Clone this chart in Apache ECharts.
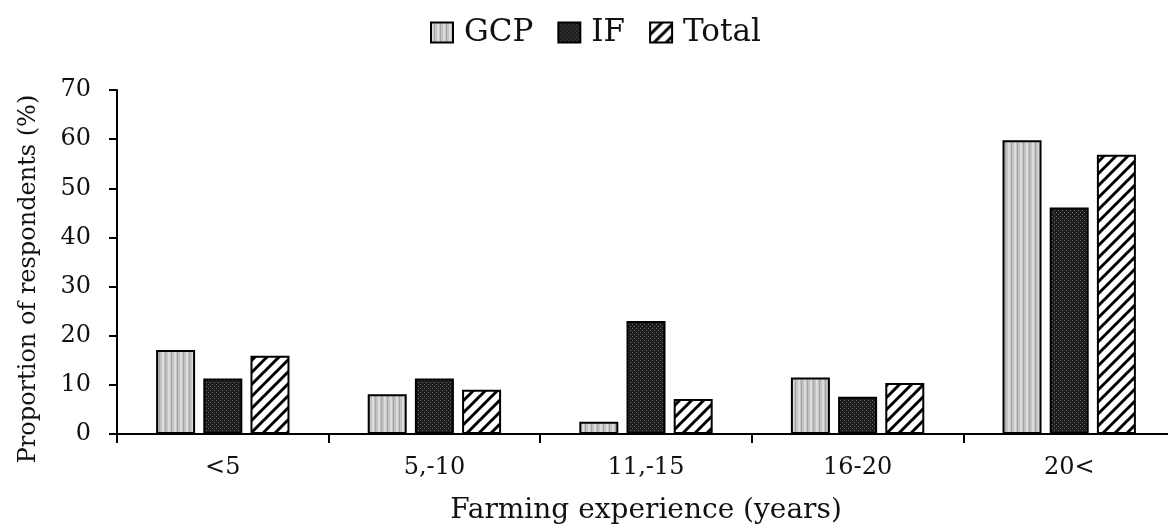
<!DOCTYPE html>
<html><head><meta charset="utf-8">
<script src="https://cdn.jsdelivr.net/npm/echarts@6/dist/echarts.min.js"></script>
<style>html,body{margin:0;padding:0;background:#fff;overflow:hidden}#c{width:1168px;height:524px}</style>
</head><body><div id="c"></div>
<script>
const categories = ['<5', '5,-10', '11,-15', '16-20', '20<'];
const gcp = [17.1, 8.1, 2.5, 11.5, 59.8];
const ifv = [11.3, 11.3, 23.0, 7.6, 46.1];
const total = [15.9, 9.0, 7.1, 10.4, 56.8];
const yTicks = [0, 10, 20, 30, 40, 50, 60, 70];

function mk(w, h, draw) {
  const c = document.createElement('canvas'); c.width = w; c.height = h;
  draw(c.getContext('2d')); return c;
}
const pGCP = mk(6, 6, g => {
  g.fillStyle = '#c4c4c4'; g.fillRect(0, 0, 6, 6);
  g.fillStyle = '#dcdcdc'; g.fillRect(0, 0, 2, 6);
  g.fillStyle = '#a6a6a6'; g.fillRect(3, 0, 1, 6);
});
const pIF = mk(4, 4, g => {
  g.fillStyle = '#1c1c1c'; g.fillRect(0, 0, 4, 4);
  g.fillStyle = '#6a6a6a'; g.fillRect(0, 0, 1, 1); g.fillRect(2, 2, 1, 1);
});
const pTot = mk(12, 12, g => {
  g.fillStyle = '#fff'; g.fillRect(0, 0, 12, 12);
  g.strokeStyle = '#000'; g.lineWidth = 3;
  g.beginPath();
  g.moveTo(-3, 15); g.lineTo(15, -3);
  g.moveTo(-9, 9); g.lineTo(9, -9);
  g.moveTo(3, 21); g.lineTo(21, 3);
  g.stroke();
});
const font = 'DejaVu Serif';
const chart = echarts.init(document.getElementById('c'), null, {renderer: 'canvas'});
function ser(name, data, pat) {
  return {
    name, type: 'bar', data, barWidth: 39, barGap: '21%',
    itemStyle: {color: {image: pat, repeat: 'repeat'}, borderColor: '#000', borderWidth: 2}
  };
}
chart.setOption({
  animation: false,
  textStyle: {fontFamily: font, color: '#111'},
  legend: {
    top: 12, left: 425, itemWidth: 22, itemHeight: 20, itemGap: 24, icon: 'rect',
    textStyle: {fontFamily: font, fontSize: 31, color: '#111', padding: [0, 0, 0, 6]},
    itemStyle: {borderColor: '#000', borderWidth: 2},
    data: ['GCP', 'IF', 'Total']
  },
  grid: {left: 117, right: -7, top: 90, bottom: 90, containLabel: false, outerBoundsMode: 'none'},
  xAxis: {
    type: 'category', data: categories,
    name: 'Farming experience (years)', nameLocation: 'middle', nameGap: 63,
    nameTextStyle: {fontFamily: font, fontSize: 28, color: '#111'},
    axisLine: {lineStyle: {color: '#000', width: 2}},
    axisTick: {show: true, length: 9, lineStyle: {color: '#000', width: 2}},
    axisLabel: {fontFamily: font, fontSize: 24, color: '#111', margin: 22}
  },
  yAxis: {
    type: 'value', min: yTicks[0], max: yTicks[yTicks.length - 1], interval: 10,
    name: 'Proportion of respondents (%)', nameLocation: 'middle', nameGap: 76, nameRotate: 90,
    nameTextStyle: {fontFamily: font, fontSize: 24, color: '#111', padding: [0, 34, 0, 0]},
    axisLine: {show: true, lineStyle: {color: '#000', width: 2}},
    axisTick: {show: true, length: 8, lineStyle: {color: '#000', width: 2}},
    splitLine: {show: false},
    axisLabel: {fontFamily: font, fontSize: 24, color: '#111', margin: 26}
  },
  series: [ser('GCP', gcp, pGCP), ser('IF', ifv, pIF), ser('Total', total, pTot)]
});
</script></body></html>
